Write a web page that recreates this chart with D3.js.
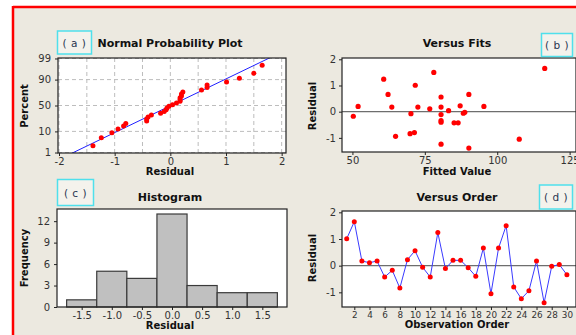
<!DOCTYPE html>
<html><head><meta charset="utf-8">
<script src="https://cdn.jsdelivr.net/npm/d3@7"></script>
<style>body{margin:0;background:#fff}svg{display:block}</style>
</head><body><svg id="chart" width="576" height="335"></svg>
<script>
// ---------- data ----------
const observationOrder = d3.range(1, 31);
const residuals = [1.01, 1.65, 0.175, 0.11, 0.175, -0.425, -0.175, -0.84, 0.225, 0.56,
  -0.06, -0.425, 1.24, -0.11, 0.2, 0.2, -0.075, -0.4, 0.66, -1.05,
  0.66, 1.5, -0.8, -1.24, -0.94, 0.175, -1.39, -0.025, 0.04, -0.34];
const fittedValues = [71.7, 116.4, 63.6, 76.7, 72.6, 85.1, 50.3, 69.9, 87.2, 80.6,
  88.3, 86.5, 60.8, 80.6, 51.96, 95.4, 70.2, 80.6, 62.3, 107.6,
  90.2, 78.1, 71.4, 80.6, 64.9, 80.6, 90.2, 88.8, 83.2, 80.6];
const percentTicks = [1, 10, 50, 90, 99];
const probXTicks = [-2, -1, 0, 1, 2];
const probXGrid = [-2, -1.5, -1, -0.5, 0, 0.5, 1, 1.5, 2];
const fitsXTicks = [50, 75, 100, 125];
const residualTicks = [-1, 0, 1, 2];
const histThresholds = [-1.75, -1.25, -0.75, -0.25, 0.25, 0.75, 1.25, 1.75];
const histXTicks = [-1.5, -1.0, -0.5, 0.0, 0.5, 1.0, 1.5];
const freqTicks = [0, 3, 6, 9, 12];
const orderTicks = d3.range(2, 31, 2);

// inverse normal CDF (Acklam)
function qnorm(p) {
  const a = [-39.6968302866538, 220.946098424521, -275.928510446969, 138.357751867269, -30.6647980661472, 2.50662827745924];
  const b = [-54.4760987982241, 161.585836858041, -155.698979859887, 66.8013118877197, -13.2806815528857];
  const c = [-0.00778489400243029, -0.322396458041136, -2.40075827716184, -2.54973253934373, 4.37466414146497, 2.93816398269878];
  const d = [0.00778469570904146, 0.32246712907004, 2.445134137143, 3.75440866190742];
  const pl = 0.02425;
  let q, r;
  if (p < pl) { q = Math.sqrt(-2 * Math.log(p));
    return (((((c[0]*q+c[1])*q+c[2])*q+c[3])*q+c[4])*q+c[5]) / ((((d[0]*q+d[1])*q+d[2])*q+d[3])*q+1); }
  if (p > 1 - pl) { q = Math.sqrt(-2 * Math.log(1 - p));
    return -(((((c[0]*q+c[1])*q+c[2])*q+c[3])*q+c[4])*q+c[5]) / ((((d[0]*q+d[1])*q+d[2])*q+d[3])*q+1); }
  q = p - 0.5; r = q * q;
  return (((((a[0]*r+a[1])*r+a[2])*r+a[3])*r+a[4])*r+a[5])*q / (((((b[0]*r+b[1])*r+b[2])*r+b[3])*r+b[4])*r+1);
}

const loc = d3.formatLocale({ decimal: ".", thousands: ",", grouping: [3], currency: ["", ""], minus: "-" });
const fmtInt = loc.format("d"), fmt1 = loc.format(".1f");

// ---------- style ----------
const BG = "#ECE9E0", RED = "#FF0000", TXT = "#333333";
const FONT = "'DejaVu Sans', Verdana, sans-serif";
const svg = d3.select("#chart").style("font-family", FONT);

svg.append("rect").attr("width", 576).attr("height", 335).attr("fill", "#fff");
svg.append("rect").attr("x", 13).attr("y", 7).attr("width", 570).attr("height", 335).attr("fill", BG);
svg.append("line").attr("x1", 13).attr("x2", 576).attr("y1", 7).attr("y2", 7).attr("stroke", RED).attr("stroke-width", 2.5);
svg.append("line").attr("x1", 13).attr("x2", 13).attr("y1", 6).attr("y2", 335).attr("stroke", RED).attr("stroke-width", 2.5);

const defs = svg.append("defs");
let clipId = 0;

function panel(box) {
  const g = svg.append("g");
  g.append("rect").attr("x", box.x0).attr("y", box.y0).attr("width", box.x1 - box.x0).attr("height", box.y1 - box.y0)
    .attr("fill", "#fff");
  const id = "clip" + (clipId++);
  defs.append("clipPath").attr("id", id).append("rect")
    .attr("x", box.x0).attr("y", box.y0).attr("width", box.x1 - box.x0).attr("height", box.y1 - box.y0);
  const inner = g.append("g").attr("clip-path", `url(#${id})`);
  return { g, inner };
}
function frame(g, box) {
  g.append("rect").attr("x", box.x0).attr("y", box.y0).attr("width", box.x1 - box.x0).attr("height", box.y1 - box.y0)
    .attr("fill", "none").attr("stroke", "#222").attr("stroke-width", 1.2);
}
function styleAxis(size) {
  return sel => {
    sel.select(".domain").remove();
    sel.selectAll(".tick line").attr("stroke", "#222");
    sel.selectAll(".tick text").attr("fill", TXT).attr("font-size", size || 10).attr("font-family", FONT);
  };
}
function title(text, x, y) {
  svg.append("text").attr("x", x).attr("y", y).attr("text-anchor", "middle").attr("font-size", 11)
    .attr("font-weight", "bold").attr("fill", "#111").text(text);
}
function xlabel(text, x, y) {
  svg.append("text").attr("x", x).attr("y", y).attr("text-anchor", "middle").attr("font-size", 10)
    .attr("font-weight", "bold").attr("fill", "#111").text(text);
}
function ylabel(text, x, y) {
  svg.append("text").attr("transform", `translate(${x},${y}) rotate(-90)`).attr("text-anchor", "middle")
    .attr("font-size", 10).attr("font-weight", "bold").attr("fill", "#111").text(text);
}
function tag(text, x, y, w, h) {
  svg.append("rect").attr("x", x).attr("y", y).attr("width", w).attr("height", h)
    .attr("fill", "#F4F2EC").attr("stroke", "#4FE0EC").attr("stroke-width", 1.5);
  svg.append("text").attr("x", x + w / 2).attr("y", y + h / 2 + 4).attr("text-anchor", "middle")
    .attr("font-size", 10.5).attr("fill", "#2A3550").style("white-space", "pre")
    .attr("letter-spacing", 0.5).text(text);
}

// ---------- (a) Normal probability plot ----------
{
  const box = { x0: 58, x1: 286, y0: 58, y1: 153 };
  const x = d3.scaleLinear().domain([-2.018, 2.078]).range([box.x0, box.x1]);
  const y = d3.scaleLinear().domain([-2.35, 2.35]).range([box.y1, box.y0]);
  const { g, inner } = panel(box);
  inner.selectAll(".gx").data(probXGrid).join("line")
    .attr("x1", d => x(d)).attr("x2", d => x(d)).attr("y1", box.y0).attr("y2", box.y1)
    .attr("stroke", "#BDBDBD").attr("stroke-dasharray", "4,3");
  inner.selectAll(".gy").data(percentTicks).join("line")
    .attr("x1", box.x0).attr("x2", box.x1).attr("y1", d => y(qnorm(d / 100))).attr("y2", d => y(qnorm(d / 100)))
    .attr("stroke", "#BDBDBD").attr("stroke-dasharray", "4,3");
  const mu = d3.mean(residuals), sd = d3.deviation(residuals);
  const zs = [-3, 3];
  inner.append("line").attr("x1", x(mu + zs[0] * sd)).attr("y1", y(zs[0])).attr("x2", x(mu + zs[1] * sd)).attr("y2", y(zs[1]))
    .attr("stroke", "#2020FF").attr("stroke-width", 1);
  const sorted = residuals.slice().sort(d3.ascending);
  const n = sorted.length;
  g.selectAll(".pt").data(sorted).join("circle")
    .attr("cx", d => x(d)).attr("cy", (d, i) => y(qnorm((i + 1 - 0.3) / (n + 0.4))))
    .attr("r", 2.5).attr("fill", RED);
  frame(g, box);
  g.append("g").attr("transform", `translate(0,${box.y1})`)
    .call(d3.axisBottom(x).tickValues(probXTicks).tickSize(3).tickPadding(2).tickFormat(fmtInt)).call(styleAxis());
  g.append("g").attr("transform", `translate(${box.x0},0)`)
    .call(d3.axisLeft(y).tickValues(percentTicks.map(p => qnorm(p / 100))).tickSize(3).tickPadding(4)
      .tickFormat((d, i) => percentTicks[i])).call(styleAxis());
  title("Normal Probability Plot", 170, 46.5);
  xlabel("Residual", 170, 175);
  ylabel("Percent", 28, 106);
  tag("( a )", 57.5, 31, 34, 23);
}

// ---------- (b) Versus fits ----------
{
  const box = { x0: 342, x1: 576, y0: 58, y1: 152 };
  const x = d3.scaleLinear().domain([46.4, 127.2]).range([box.x0, box.x1]);
  const y = d3.scaleLinear().domain([-1.54, 2.05]).range([box.y1, box.y0]);
  const { g, inner } = panel(box);
  inner.append("line").attr("x1", box.x0).attr("x2", box.x1).attr("y1", y(0)).attr("y2", y(0))
    .attr("stroke", "#6E6E6E").attr("stroke-width", 1.2);
  inner.selectAll(".pt").data(residuals).join("circle")
    .attr("cx", (d, i) => x(fittedValues[i])).attr("cy", d => y(d)).attr("r", 2.6).attr("fill", RED);
  frame(g, box);
  g.append("g").attr("transform", `translate(0,${box.y1})`)
    .call(d3.axisBottom(x).tickValues(fitsXTicks).tickSize(3).tickPadding(2).tickFormat(fmtInt)).call(styleAxis());
  g.append("g").attr("transform", `translate(${box.x0},0)`)
    .call(d3.axisLeft(y).tickValues(residualTicks).tickSize(3).tickPadding(3).tickFormat(fmtInt)).call(styleAxis());
  title("Versus Fits", 457, 46.5);
  xlabel("Fitted Value", 457, 175);
  ylabel("Residual", 316, 106);
  tag("( b )", 541.5, 33.5, 31, 23);
}

// ---------- (c) Histogram ----------
{
  const box = { x0: 57, x1: 287, y0: 209, y1: 307 };
  const x = d3.scaleLinear().domain([-1.91, 1.91]).range([box.x0, box.x1]);
  const y = d3.scaleLinear().domain([0, 13.7]).range([box.y1, box.y0]);
  const bins = d3.bin().domain([histThresholds[0], histThresholds[histThresholds.length - 1]])
    .thresholds(histThresholds.slice(1, -1))(residuals);
  const { g } = panel(box);
  g.selectAll(".bar").data(bins).join("rect")
    .attr("x", d => x(d.x0)).attr("width", d => x(d.x1) - x(d.x0))
    .attr("y", d => y(d.length)).attr("height", d => y(0) - y(d.length))
    .attr("fill", "#C0C0C0").attr("stroke", "#3A3A3A").attr("stroke-width", 1.2);
  frame(g, box);
  g.append("g").attr("transform", `translate(0,${box.y1})`)
    .call(d3.axisBottom(x).tickValues(histXTicks).tickSize(3).tickPadding(2).tickFormat(fmt1)).call(styleAxis());
  g.append("g").attr("transform", `translate(${box.x0},0)`)
    .call(d3.axisLeft(y).tickValues(freqTicks).tickSize(3).tickPadding(4).tickFormat(fmtInt)).call(styleAxis());
  title("Histogram", 170, 201);
  xlabel("Residual", 170, 329);
  ylabel("Frequency", 28, 258);
  tag("( c )", 57.5, 179.5, 36, 26);
}

// ---------- (d) Versus order ----------
{
  const box = { x0: 342, x1: 576, y0: 211, y1: 307 };
  const x = d3.scaleLinear().domain([0.38, 31.2]).range([box.x0, box.x1]);
  const y = d3.scaleLinear().domain([-1.55, 2.05]).range([box.y1, box.y0]);
  const { g, inner } = panel(box);
  inner.append("line").attr("x1", box.x0).attr("x2", box.x1).attr("y1", y(0)).attr("y2", y(0))
    .attr("stroke", "#6E6E6E").attr("stroke-width", 1.2);
  inner.append("path").datum(residuals)
    .attr("d", d3.line().x((d, i) => x(observationOrder[i])).y(d => y(d)))
    .attr("fill", "none").attr("stroke", "#3A3AFF").attr("stroke-width", 1);
  inner.selectAll(".pt").data(residuals).join("circle")
    .attr("cx", (d, i) => x(observationOrder[i])).attr("cy", d => y(d)).attr("r", 2.5).attr("fill", RED);
  frame(g, box);
  g.append("g").attr("transform", `translate(0,${box.y1})`)
    .call(d3.axisBottom(x).tickValues(orderTicks).tickSize(3).tickPadding(2).tickFormat(fmtInt)).call(styleAxis(8.8));
  g.append("g").attr("transform", `translate(${box.x0},0)`)
    .call(d3.axisLeft(y).tickValues(residualTicks).tickSize(3).tickPadding(3).tickFormat(fmtInt)).call(styleAxis());
  title("Versus Order", 457, 201);
  xlabel("Observation Order", 457, 328);
  ylabel("Residual", 316, 258);
  tag("( d )", 539.5, 185, 33, 24);
}
</script></body></html>
